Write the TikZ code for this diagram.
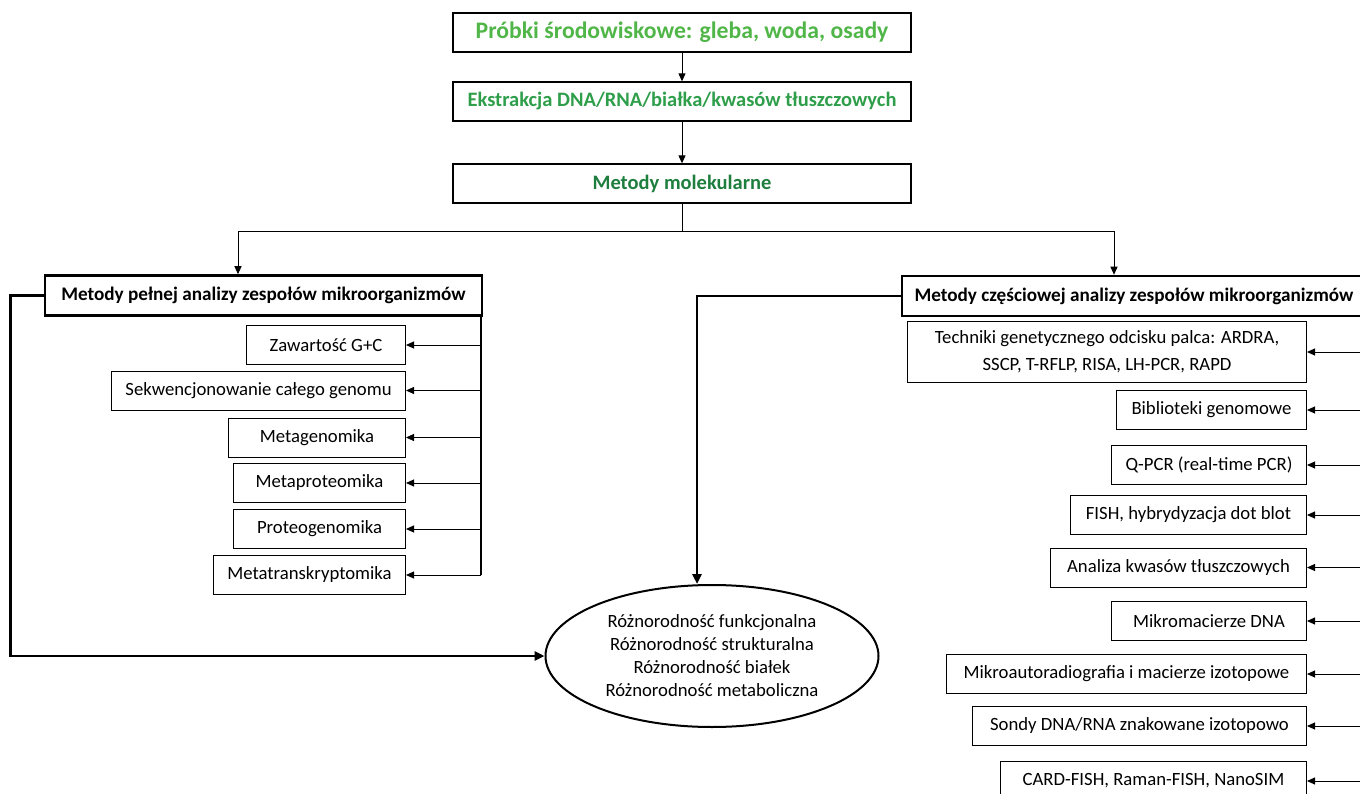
\documentclass[tikz,border=0pt]{standalone}
\usepackage{fontspec}
\setmainfont{Carlito}
\usetikzlibrary{arrows.meta,shapes.geometric}

\definecolor{greenA}{RGB}{80,182,72}
\definecolor{greenB}{RGB}{46,158,74}
\definecolor{greenC}{RGB}{30,126,62}

\begin{document}
\begin{tikzpicture}[x=1pt, y=-1pt, >={Triangle[length=8pt,width=7pt]},
  font=\fontsize{18.7}{23}\selectfont,
  top/.style={draw, line width=1.3pt, minimum width=458, minimum height=39, inner sep=0pt,
    font=\fontsize{20.5}{24}\selectfont\bfseries},
  head/.style={draw, line width=2.5pt, minimum height=40, inner sep=0pt,
    font=\fontsize{19.2}{23}\selectfont\bfseries},
  sub/.style={draw, line width=1pt, minimum height=39, inner sep=0pt, anchor=east},
  thin/.style={line width=1pt},
  bus/.style={line width=1.6pt},
  heavy/.style={line width=2.6pt, >={Triangle[length=10pt,width=9pt]}}]
    \useasboundingbox (0,0) rectangle (1360,794);
    \clip (0,0) rectangle (1360,794);

    % samples -> extraction -> molecular methods
    \node[top, text=greenA, font=\fontsize{23.7}{27}\selectfont\bfseries] (samples) at (682,32.5) {Próbki środowiskowe: gleba, woda, osady};
    \node[top, text=greenB] (extract) at (682,101.5) {Ekstrakcja DNA/RNA/białka/kwasów tłuszczowych};
    \node[top, text=greenC] (molec) at (682,183.5) {Metody molekularne};
    \draw[thin,->] (samples) -- (extract);
    \draw[thin,->] (extract) -- (molec);

    % two groups of methods
    \node[head, minimum width=437] (full) at (263.5,295.5) {Metody pełnej analizy zespołów mikroorganizmów};
    \node[head, minimum width=464] (part) at (1134,296) {Metody częściowej analizy zespołów mikroorganizmów};
    \coordinate (split) at (682,232);
    \draw[thin] (molec.south) -- (split);
    \draw[thin,->] (split) -| ([xshift=-25.5pt]full.north);
    \draw[thin,->] (split) -| ([xshift=-20pt]part.north);

    % full analysis
    \node[sub, minimum width=159] (gc) at (406,345) {Zawartość G+C};
    \node[sub, minimum width=294] (seq) at (406,390.5) {Sekwencjonowanie całego genomu};
    \node[sub, minimum width=177] (mgen) at (406,437.5) {Metagenomika};
    \node[sub, minimum width=172] (mprot) at (406,483) {Metaproteomika};
    \node[sub, minimum width=172] (pgen) at (406,529) {Proteogenomika};
    \node[sub, minimum width=192] (mtrans) at (406,575) {Metatranskryptomika};
    \coordinate (lbus) at ([xshift=-2pt]full.south east);
    \draw[bus] (lbus) -- (lbus |- mtrans.east);
    \foreach \n in {gc,seq,mgen,mprot,pgen,mtrans}
        \draw[thin,->] (lbus |- \n.east) -- (\n.east);

    % partial analysis
    \node[sub, minimum width=399, minimum height=60, align=center, font=\fontsize{18.7}{27}\selectfont] (tech) at (1307,352) {Techniki genetycznego odcisku palca: ARDRA,\\SSCP, T-RFLP, RISA, LH-PCR, RAPD};
    \node[sub, minimum width=190] (bib) at (1307,410) {Biblioteki genomowe};
    \node[sub, minimum width=195] (qpcr) at (1307,465) {Q-PCR (real-time PCR)};
    \node[sub, minimum width=236] (fish) at (1307,515) {FISH, hybrydyzacja dot blot};
    \node[sub, minimum width=256] (fatty) at (1307,567.5) {Analiza kwasów tłuszczowych};
    \node[sub, minimum width=195] (micro) at (1307,621) {Mikromacierze DNA};
    \node[sub, minimum width=360] (autorad) at (1307,674) {Mikroautoradiografia i macierze izotopowe};
    \node[sub, minimum width=334] (probes) at (1307,726) {Sondy DNA/RNA znakowane izotopowo};
    \node[sub, minimum width=306] (card) at (1307,781) {CARD-FISH, Raman-FISH, NanoSIM};
    \coordinate (rbus) at (1375,316);
    \draw[bus] (rbus) -- (rbus |- card.east);
    \foreach \n in {tech,bib,qpcr,fish,fatty,micro,autorad,probes,card}
        \draw[thin,->] (rbus |- \n.east) -- (\n.east);

    % diversity
    \node[ellipse, draw, line width=2pt, minimum width=333, minimum height=142, inner sep=0pt, align=center] (div) at (712,656)
        {Różnorodność funkcjonalna\\Różnorodność strukturalna\\Różnorodność białek\\Różnorodność metaboliczna};
    \draw[heavy,->] (full.west) -- ++(-33,0) |- (div.west);
    \draw[heavy,->] (part.west) -| ([xshift=-15pt]div.north);
\end{tikzpicture}
\end{document}
